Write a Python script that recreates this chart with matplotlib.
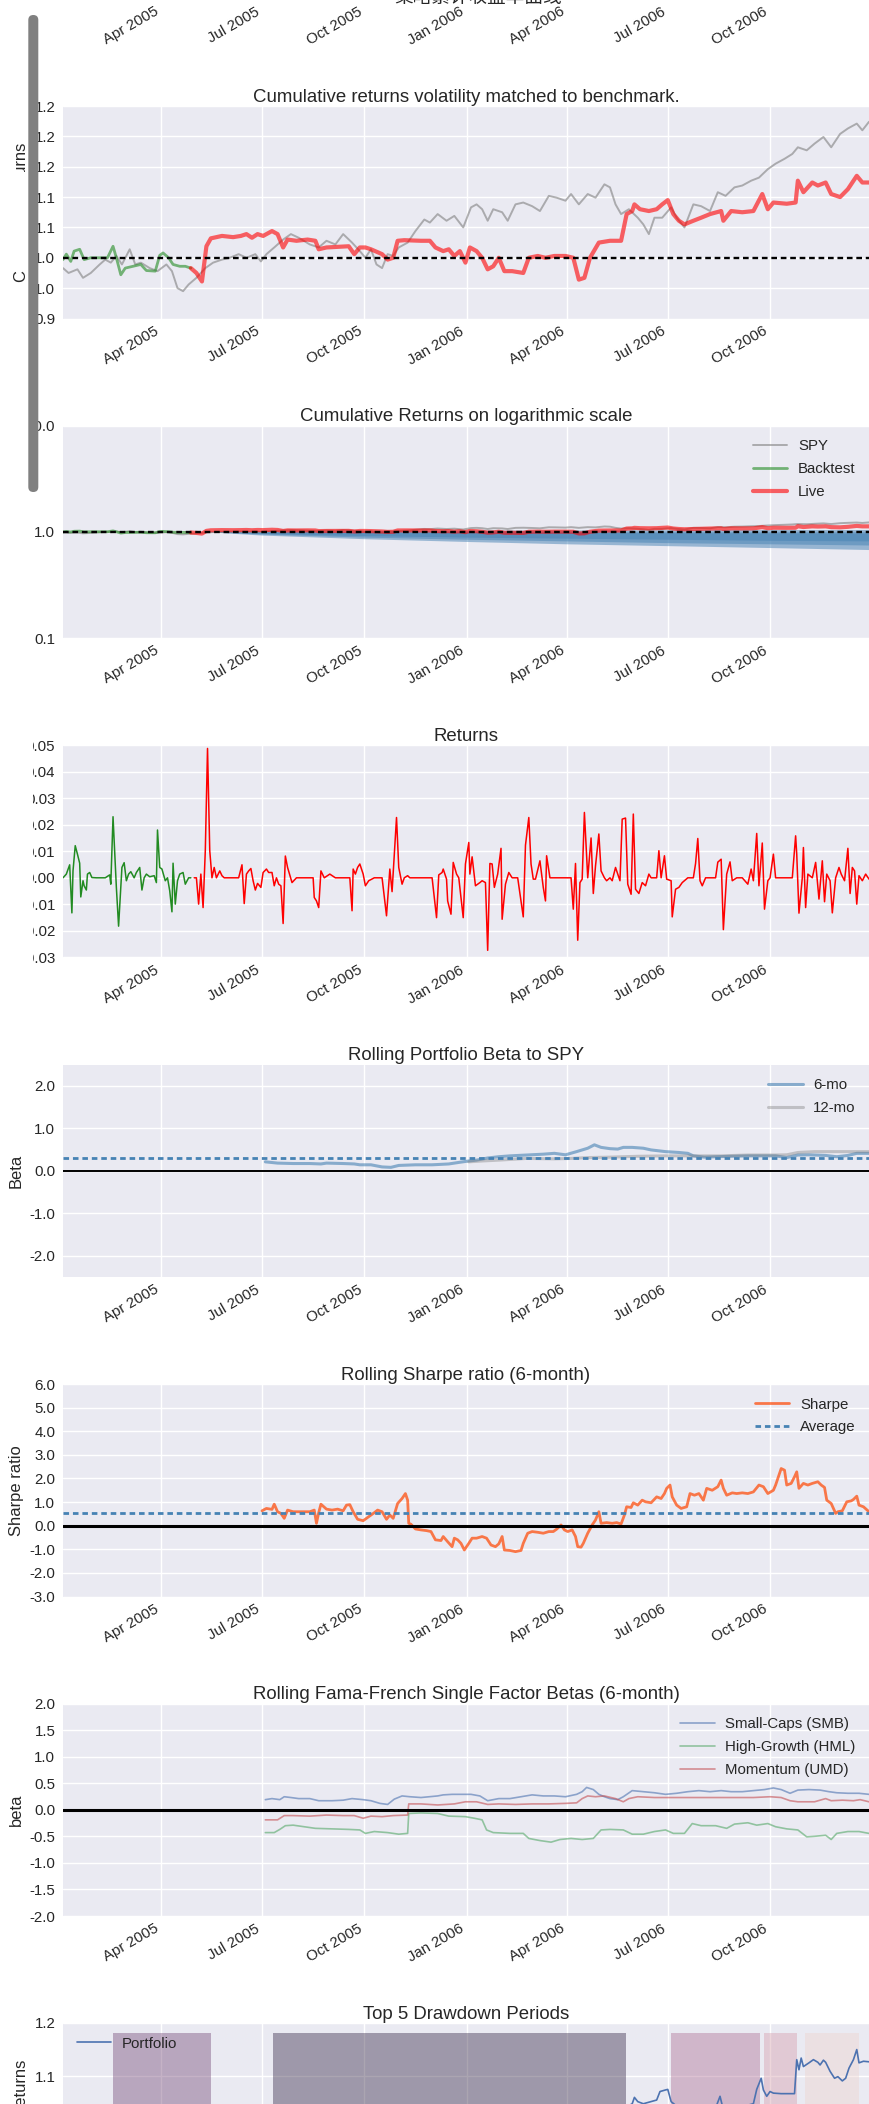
import numpy as np
import pandas as pd
import matplotlib
matplotlib.use("Agg")
import matplotlib.pyplot as plt
import matplotlib.dates as mdates
from matplotlib.ticker import FixedLocator, FixedFormatter, NullLocator
from matplotlib.patches import FancyBboxPatch, Rectangle
from matplotlib.transforms import IdentityTransform
import seaborn as sns

# ---------------- data (x values are calendar days after 2005-01-03) ----------------
START = "2005-01-03"
END = "2006-12-29"

spy_days = [0, 5, 13, 18, 25, 33, 38, 43, 48, 53, 60, 65, 70, 78, 85, 93, 98, 103, 108, 113,
            120, 128, 135, 143, 150, 158, 165, 173, 178, 183, 190, 198, 205, 212, 222, 230, 237,
            245, 252, 260, 267, 272, 277, 282, 287, 292, 297, 302, 310, 317, 325, 330, 337, 345,
            352, 360, 367, 372, 377, 382, 387, 395, 400, 407, 414, 422, 429, 437, 444, 452, 457,
            464, 472, 479, 487, 492, 497, 502, 509, 517, 522, 527, 532, 539, 547, 552, 559, 567,
            574, 582, 589, 596, 604, 611, 619, 626, 634, 641, 649, 656, 661, 669, 676, 684, 691,
            699, 706, 714, 719, 725]
spy_vals = [0.983, 0.975, 0.981, 0.967, 0.975, 0.989, 0.997, 0.992, 1.003, 0.989, 1.014, 0.989,
            0.992, 0.983, 0.978, 0.989, 0.978, 0.950, 0.945, 0.956, 0.967, 0.983, 0.992, 0.997,
            1.000, 1.006, 1.000, 1.006, 0.994, 1.006, 1.017, 1.030, 1.039, 1.033, 1.022, 1.017,
            1.028, 1.022, 1.039, 1.025, 1.011, 1.000, 1.014, 0.989, 0.983, 1.006, 1.003, 1.017,
            1.025, 1.044, 1.063, 1.058, 1.072, 1.061, 1.069, 1.050, 1.083, 1.088, 1.080, 1.061,
            1.080, 1.075, 1.061, 1.088, 1.091, 1.085, 1.077, 1.102, 1.099, 1.094, 1.105, 1.088,
            1.105, 1.099, 1.121, 1.116, 1.088, 1.072, 1.080, 1.066, 1.055, 1.039, 1.066, 1.066,
            1.083, 1.066, 1.050, 1.088, 1.085, 1.077, 1.108, 1.102, 1.116, 1.119, 1.127, 1.132,
            1.146, 1.155, 1.163, 1.171, 1.182, 1.177, 1.188, 1.199, 1.182, 1.204, 1.213, 1.221,
            1.210, 1.224]

bt_days = [0, 3, 7, 10, 15, 19, 25, 33, 40, 45, 48, 52, 56, 63, 70, 75, 83, 87, 90, 95, 99,
           105, 110, 115]
bt_vals = [0.997, 1.006, 0.994, 1.011, 1.014, 0.997, 1.000, 1.000, 1.000, 1.019, 1.000, 0.972,
           0.983, 0.986, 0.989, 0.979, 0.978, 1.004, 1.008, 1.000, 0.989, 0.986, 0.986, 0.983]

live_days = [115, 120, 125, 129, 133, 143, 153, 160, 165, 170, 175, 180, 188, 193, 198, 202,
             210, 220, 227, 230, 237, 247, 257, 262, 267, 272, 277, 287, 292, 297, 301, 307, 322,
             330, 335, 342, 347, 352, 357, 362, 366, 372, 377, 382, 387, 392, 397, 404, 414, 419,
             427, 434, 442, 452, 459, 464, 469, 474, 482, 492, 502, 507, 512, 514, 519, 527, 534,
             539, 544, 549, 554, 559, 567, 574, 582, 592, 594, 601, 611, 621, 629, 634, 639, 651,
             659, 661, 666, 674, 679, 686, 691, 699, 706, 714, 719, 725]
live_vals = [0.983, 0.975, 0.961, 1.019, 1.032, 1.036, 1.034, 1.036, 1.039, 1.033, 1.039, 1.036,
             1.044, 1.039, 1.017, 1.030, 1.028, 1.030, 1.028, 1.014, 1.017, 1.018, 1.019, 1.006,
             1.017, 1.017, 1.014, 1.006, 0.997, 1.000, 1.028, 1.029, 1.028, 1.028, 1.017, 1.011,
             1.014, 1.003, 1.011, 0.992, 1.017, 1.011, 1.000, 0.981, 0.986, 1.000, 0.978, 0.978,
             0.975, 1.000, 1.003, 1.000, 1.003, 1.003, 1.000, 0.964, 0.967, 1.000, 1.025, 1.028,
             1.028, 1.072, 1.077, 1.088, 1.080, 1.077, 1.080, 1.088, 1.095, 1.072, 1.061, 1.055,
             1.061, 1.066, 1.072, 1.077, 1.061, 1.077, 1.075, 1.077, 1.105, 1.080, 1.091, 1.089,
             1.091, 1.127, 1.108, 1.124, 1.119, 1.124, 1.105, 1.100, 1.113, 1.135, 1.124, 1.124]

# bootstrap cone (lower / upper bounds for 1.0, 1.5, 2.0 std)
cone_days = [129, 179, 271, 363, 453, 544, 636, 725]
cone_lo = {1.0: [1.0, 0.965, 0.92, 0.89, 0.87, 0.85, 0.83, 0.82],
           1.5: [1.0, 0.95, 0.89, 0.85, 0.82, 0.79, 0.77, 0.75],
           2.0: [1.0, 0.93, 0.86, 0.81, 0.77, 0.74, 0.71, 0.68]}
cone_hi = {1.0: [1.0, 1.0, 0.995, 0.99, 0.985, 0.98, 0.975, 0.97],
           1.5: [1.0, 1.01, 1.01, 1.01, 1.01, 1.01, 1.01, 1.01],
           2.0: [1.0, 1.02, 1.03, 1.035, 1.04, 1.045, 1.05, 1.05]}

ret_bt_days = [0, 3, 6, 8, 9, 11, 13, 15, 16, 18, 19, 21, 22, 24, 26, 30, 38, 42, 43, 45, 48,
               50, 53, 55, 57, 59, 61, 64, 66, 69, 71, 73, 75, 78, 82, 84, 85, 87, 89, 92, 94, 96,
               98, 99, 101, 103, 105, 108, 110, 113, 115]
ret_bt_vals = [0.0, 0.0014, 0.0049, -0.0132, 0.0026, 0.0121, 0.0089, 0.0055, -0.0072, -0.0011,
               -0.003, -0.0046, 0.0014, 0.002, 0.0001, 0.0, 0.0, 0.0011, -0.0024, 0.023, -0.0036,
               -0.0182, 0.0039, 0.0057, -0.0011, 0.0014, 0.0023, 0.0, 0.002, 0.0039, -0.0046, 0.0,
               0.0014, 0.0004, 0.0008, -0.0018, 0.018, 0.0039, 0.0033, -0.0011, 0.0, -0.0049,
               -0.0128, 0.0055, -0.0099, -0.0011, 0.0014, 0.002, -0.0024, 0.0, 0.0]

ret_live_days = [118, 120, 122, 124, 126, 128, 130, 132, 134, 136, 138, 141, 143, 145, 148, 153,
                 158, 161, 163, 165, 167, 169, 171, 173, 175, 178, 180, 183, 185, 188, 190, 192,
                 194, 196, 198, 200, 202, 206, 210, 215, 220, 225, 226, 228, 230, 232, 235, 240,
                 245, 252, 258, 260, 261, 263, 265, 267, 270, 272, 275, 280, 287, 291, 294, 296,
                 298, 300, 302, 305, 307, 310, 312, 317, 322, 327, 332, 336, 338, 341, 342, 345,
                 346, 349, 351, 354, 356, 360, 362, 365, 366, 368, 371, 375, 377, 380, 382, 384,
                 386, 388, 391, 394, 395, 398, 401, 404, 409, 414, 416, 419, 421, 423, 425, 429,
                 432, 434, 435, 438, 442, 447, 452, 457, 459, 461, 463, 465, 467, 469, 472, 475,
                 477, 479, 482, 484, 487, 489, 492, 494, 497, 501, 503, 506, 508, 511, 513, 515,
                 518, 521, 524, 527, 529, 534, 536, 538, 541, 543, 547, 548, 551, 554, 557, 562,
                 567, 569, 571, 573, 575, 578, 582, 587, 589, 592, 594, 597, 600, 602, 606, 611,
                 616, 619, 621, 624, 626, 629, 631, 634, 636, 639, 641, 646, 651, 656, 659, 660,
                 662, 665, 666, 668, 670, 674, 677, 680, 683, 685, 687, 690, 692, 695, 698, 700,
                 703, 706, 708, 710, 712, 714, 716, 719, 722, 725]
ret_live_vals = [0.0, 0.0, -0.0099, 0.0014, -0.0112, 0.0102, 0.0487, 0.0102, 0.0, 0.0039, 0.0,
                 0.0026, 0.0008, 0.0, 0.0, 0.0, 0.0, 0.0049, -0.0097, 0.0014, 0.0026, 0.0035,
                 -0.0011, -0.0046, -0.0021, -0.0036, 0.002, 0.0033, 0.002, 0.002, -0.003, 0.0,
                 -0.0024, -0.003, -0.0172, 0.0082, 0.0039, -0.0018, 0.0, 0.0, 0.0, 0.0, -0.0074,
                 -0.0087, -0.0112, 0.0026, 0.0, 0.0014, 0.0, 0.0, 0.0, -0.0124, 0.0033, 0.0014,
                 0.0039, 0.0052, 0.0014, -0.003, -0.0011, 0.0, 0.0, -0.0143, 0.0033, -0.0052,
                 0.0089, 0.0227, 0.0039, -0.0024, 0.0, 0.0008, 0.0, 0.0, 0.0, 0.0, 0.0, -0.015,
                 0.0011, 0.002, 0.0033, -0.0005, -0.0087, -0.0137, 0.0058, 0.0014, 0.0, -0.015,
                 0.0052, 0.0133, 0.0014, 0.0079, -0.003, -0.0018, -0.0011, -0.0018, -0.0273,
                 0.0054, 0.0052, -0.0036, 0.0014, 0.0111, -0.0156, -0.0024, 0.002, 0.0, 0.0,
                 -0.0147, 0.0123, 0.0227, 0.0052, -0.0005, -0.0005, 0.0064, -0.0036, -0.0087,
                 0.0083, 0.0, 0.0, 0.0, 0.0, 0.0, -0.0118, 0.0054, -0.0235, -0.0018, -0.0005,
                 0.0246, 0.0, 0.015, -0.0059, 0.0045, 0.0165, 0.0026, 0.0, -0.0011, 0.0, -0.0011,
                 0.0039, -0.0011, 0.0221, 0.0225, -0.0024, -0.0062, 0.024, -0.0043, -0.0059,
                 -0.0018, -0.003, 0.0014, 0.0, 0.0, 0.0102, 0.0, 0.0083, -0.0005, -0.0011, -0.0147,
                 -0.0043, -0.0036, -0.0018, 0.0, 0.0, 0.0054, 0.0148, -0.0011, -0.003, 0.0, 0.0,
                 0.0, 0.0059, 0.007, -0.0195, 0.0014, 0.006, -0.0011, 0.0, 0.0, -0.0024, 0.0033,
                 -0.0011, 0.0167, -0.003, 0.0131, -0.0118, -0.0011, 0.0, 0.0089, 0.0, 0.0, 0.0,
                 0.0, 0.0158, 0.0089, -0.0133, 0.0, 0.0114, -0.0112, 0.0014, 0.0, 0.0058, -0.008,
                 0.0064, -0.009, 0.0014, -0.0011, -0.0132, 0.0, 0.0039, 0.0014, -0.0011, 0.0111,
                 -0.0059, 0.0039, 0.0026, -0.0099, 0.0008, -0.0011, 0.0014, -0.0005]

beta6_days = [182, 193, 207, 222, 232, 237, 252, 262, 267, 277, 287, 295, 302, 317, 332, 347,
              357, 365, 372, 382, 392, 402, 417, 432, 442, 452, 462, 472, 478, 484, 492, 499, 504,
              512, 522, 529, 542, 554, 562, 567, 577, 587, 601, 616, 631, 641, 651, 661, 671, 686,
              696, 706, 714, 725]
beta6_vals = [0.21, 0.18, 0.17, 0.17, 0.16, 0.18, 0.17, 0.16, 0.14, 0.14, 0.09, 0.08, 0.125,
              0.14, 0.14, 0.16, 0.20, 0.23, 0.25, 0.30, 0.33, 0.35, 0.37, 0.39, 0.41, 0.375, 0.45,
              0.53, 0.61, 0.55, 0.52, 0.51, 0.55, 0.55, 0.53, 0.49, 0.45, 0.43, 0.41, 0.35, 0.32,
              0.33, 0.34, 0.35, 0.35, 0.35, 0.31, 0.37, 0.375, 0.36, 0.33, 0.36, 0.41, 0.41]
beta12_days = [365, 377, 392, 417, 442, 457, 472, 492, 517, 542, 567, 592, 616, 641, 651, 661,
               676, 691, 706, 725]
beta12_vals = [0.21, 0.23, 0.25, 0.29, 0.28, 0.29, 0.31, 0.32, 0.34, 0.35, 0.35, 0.35, 0.37,
               0.37, 0.375, 0.43, 0.45, 0.45, 0.45, 0.45]
beta6_mean = 0.305

sharpe_days = [179, 183, 188, 190, 193, 196, 199, 202, 207, 215, 222, 226, 228, 230, 232, 237,
               242, 247, 252, 255, 258, 261, 265, 270, 275, 280, 283, 287, 291, 294, 297, 301, 305,
               308, 310, 311, 313, 317, 322, 327, 331, 335, 340, 342, 346, 350, 352, 355, 358, 361,
               365, 368, 372, 377, 381, 385, 389, 392, 395, 397, 402, 407, 412, 414, 418, 422, 427,
               432, 437, 441, 444, 448, 451, 454, 458, 461, 463, 466, 468, 472, 476, 479, 482, 484,
               489, 494, 498, 502, 505, 507, 511, 513, 517, 521, 524, 529, 534, 538, 541, 543, 546,
               548, 552, 556, 561, 564, 568, 572, 576, 579, 584, 589, 592, 594, 597, 602, 606, 611,
               616, 621, 626, 630, 634, 639, 641, 644, 646, 649, 651, 655, 658, 660, 662, 666, 670,
               674, 679, 682, 685, 687, 691, 695, 697, 701, 705, 709, 711, 714, 716, 720, 725]
sharpe_vals = [0.63, 0.73, 0.69, 0.91, 0.59, 0.52, 0.31, 0.66, 0.59, 0.59, 0.59, 0.66, 0.10,
               0.55, 0.91, 0.70, 0.66, 0.70, 0.63, 0.87, 0.89, 0.59, 0.27, 0.21, 0.38, 0.55, 0.66,
               0.59, 0.27, 0.45, 0.31, 0.94, 1.15, 1.36, 1.08, 0.10, 0.06, -0.14, -0.18, -0.21,
               -0.25, -0.60, -0.63, -0.46, -0.68, -0.89, -0.53, -0.60, -0.75, -1.03, -0.75, -0.53,
               -0.53, -0.46, -0.53, -0.82, -0.89, -0.77, -0.46, -1.03, -1.05, -1.10, -1.05, -0.75,
               -0.32, -0.25, -0.28, -0.32, -0.25, -0.25, -0.15, 0.03, -0.18, -0.25, -0.18, -0.46,
               -0.89, -0.91, -0.75, -0.32, 0.03, 0.24, 0.59, 0.10, 0.13, 0.10, 0.13, 0.07, 0.45,
               0.80, 0.77, 0.97, 0.87, 1.08, 1.01, 0.97, 1.22, 1.15, 1.36, 1.58, 1.72, 1.22, 0.87,
               0.73, 0.80, 1.36, 1.29, 1.36, 1.08, 1.58, 1.50, 1.65, 1.93, 1.58, 1.29, 1.39, 1.36,
               1.39, 1.36, 1.43, 1.72, 1.65, 1.36, 1.50, 1.72, 2.14, 2.42, 2.35, 1.72, 1.79, 2.07,
               2.28, 1.58, 1.79, 1.72, 1.79, 1.86, 1.72, 1.62, 1.08, 0.94, 0.52, 0.59, 0.63, 1.01,
               1.05, 1.11, 1.25, 0.87, 0.80, 0.59]
sharpe_mean = 0.52

smb_days = [182, 188, 195, 199, 205, 212, 222, 230, 242, 252, 260, 270, 277, 285, 292, 298, 305,
            312, 322, 337, 342, 350, 357, 367, 375, 382, 392, 402, 412, 422, 432, 442, 452, 462,
            467, 471, 477, 482, 487, 492, 499, 504, 512, 522, 532, 542, 552, 562, 572, 582, 592,
            601, 611, 621, 631, 639, 646, 654, 661, 671, 681, 689, 696, 706, 716, 725]
smb_vals = [0.19, 0.21, 0.19, 0.245, 0.23, 0.21, 0.21, 0.17, 0.17, 0.18, 0.21, 0.19, 0.17, 0.12,
            0.10, 0.20, 0.26, 0.245, 0.23, 0.26, 0.28, 0.29, 0.29, 0.29, 0.26, 0.17, 0.21, 0.21,
            0.245, 0.28, 0.26, 0.26, 0.245, 0.29, 0.34, 0.42, 0.38, 0.29, 0.245, 0.21, 0.19,
            0.245, 0.36, 0.34, 0.32, 0.29, 0.31, 0.34, 0.36, 0.34, 0.36, 0.34, 0.34, 0.36, 0.38,
            0.41, 0.38, 0.31, 0.37, 0.38, 0.37, 0.34, 0.32, 0.31, 0.31, 0.29]
hml_days = [182, 190, 195, 200, 207, 217, 227, 242, 257, 267, 272, 280, 292, 302, 310, 311, 322,
            337, 347, 362, 370, 377, 381, 387, 402, 414, 419, 429, 439, 447, 457, 467, 477, 484,
            492, 504, 512, 522, 532, 542, 549, 559, 566, 574, 587, 597, 604, 616, 624, 634, 641,
            651, 661, 669, 676, 686, 691, 696, 706, 716, 725]
hml_vals = [-0.43, -0.43, -0.37, -0.30, -0.29, -0.32, -0.35, -0.36, -0.37, -0.38, -0.445, -0.41,
            -0.43, -0.46, -0.445, -0.07, -0.06, -0.07, -0.12, -0.13, -0.16, -0.19, -0.38, -0.43,
            -0.445, -0.445, -0.54, -0.58, -0.61, -0.56, -0.54, -0.56, -0.54, -0.38, -0.37, -0.38,
            -0.46, -0.46, -0.41, -0.38, -0.445, -0.445, -0.26, -0.30, -0.30, -0.35, -0.27,
            -0.245, -0.29, -0.26, -0.32, -0.36, -0.38, -0.51, -0.50, -0.48, -0.56, -0.445, -0.41,
            -0.41, -0.445]
umd_days = [182, 193, 199, 207, 222, 237, 252, 262, 270, 277, 287, 297, 310, 311, 322, 337, 352,
            362, 372, 382, 392, 407, 422, 437, 452, 462, 467, 472, 479, 487, 497, 504, 509, 517,
            532, 547, 562, 582, 601, 621, 636, 646, 654, 661, 676, 686, 691, 701, 711, 717, 725]
umd_vals = [-0.19, -0.19, -0.11, -0.11, -0.12, -0.10, -0.11, -0.11, -0.16, -0.12, -0.13, -0.11,
            -0.10, 0.11, 0.11, 0.09, 0.11, 0.15, 0.15, 0.10, 0.11, 0.10, 0.11, 0.11, 0.12, 0.13,
            0.21, 0.26, 0.245, 0.26, 0.21, 0.15, 0.21, 0.245, 0.23, 0.23, 0.23, 0.23, 0.23, 0.23,
            0.245, 0.23, 0.17, 0.15, 0.15, 0.21, 0.17, 0.18, 0.17, 0.19, 0.15]

port_days = [0, 45, 85, 130, 180, 250, 300, 350, 400, 450, 480, 505, 512, 514, 517, 522, 534,
             537, 542, 544, 547, 554, 572, 587, 591, 593, 606, 621, 624, 628, 630, 633, 636, 639,
             646, 658, 660, 662, 664, 666, 671, 675, 679, 681, 684, 686, 690, 694, 697, 701, 704,
             707, 711, 714, 716, 720, 725]
port_vals = [1.0, 1.01, 0.985, 0.975, 1.025, 1.015, 1.02, 1.01, 0.99, 1.0, 1.02, 1.04, 1.048,
             1.060, 1.052, 1.048, 1.055, 1.071, 1.074, 1.075, 1.052, 1.04, 1.035, 1.04, 1.062,
             1.045, 1.04, 1.048, 1.075, 1.096, 1.074, 1.062, 1.071, 1.068, 1.067, 1.067, 1.131,
             1.112, 1.134, 1.118, 1.125, 1.131, 1.126, 1.121, 1.130, 1.126, 1.109, 1.096, 1.099,
             1.091, 1.096, 1.115, 1.131, 1.150, 1.125, 1.128, 1.127]
# top-5 drawdowns (peak day, recovery day), ordered by size
dd_peak = [189, 45, 547, 631, 667]
dd_recov = [506, 133, 627, 660, 716]

# axis texts
titles = ["Cumulative returns volatility matched to benchmark.",
          "Cumulative Returns on logarithmic scale",
          "Returns",
          "Rolling Portfolio Beta to SPY",
          "Rolling Sharpe ratio (6-month)",
          "Rolling Fama-French Single Factor Betas (6-month)",
          "Top 5 Drawdown Periods"]
ylabels = ["Cumulative returns", "Cumulative returns", "Returns", "Beta", "Sharpe ratio",
           "beta", "Cumulative returns"]
p1_ticks = [0.90, 0.95, 1.00, 1.05, 1.10, 1.15, 1.20, 1.25]
p1_labels = ["0.9", "1.0", "1.0", "1.1", "1.1", "1.2", "1.2", "1.2"]
top_text = "策略累计收益率曲线"

# ---------------- style ----------------
sns.set_style("darkgrid")
plt.rcParams["font.family"] = ["Liberation Sans", "Noto Sans CJK SC", "DejaVu Sans"]
plt.rcParams["axes.unicode_minus"] = False
plt.rcParams["text.color"] = ".15"
plt.rcParams["xtick.color"] = ".15"
plt.rcParams["ytick.color"] = ".15"
plt.rcParams["axes.labelcolor"] = ".15"

TICK_FS = 10.8
LEG_FS = 10.8
TITLE_FS = 13.4
LABEL_FS = 11.9
LEG_KW = dict(frameon=False, fontsize=LEG_FS, handlelength=2.3, handletextpad=0.7,
              labelspacing=0.6)

def d(days):
    return pd.Timestamp(START) + pd.to_timedelta(np.asarray(days), unit="D")

W, H = 869, 2104
LEFT = 63
TOP0, STEP, AH = 106, 319.5, 212.5

fig = plt.figure(figsize=(W / 100, H / 100), dpi=100)

def make_ax(k):
    top = TOP0 + STEP * k
    ax = fig.add_axes([LEFT / W, 1 - (top + AH) / H, (W - LEFT) / W, AH / H])
    ax.set_facecolor("#EAEAF2")
    for s in ax.spines.values():
        s.set_visible(False)
    ax.grid(True, color="white", lw=1.0)
    ax.set_axisbelow(True)
    ax.tick_params(axis="both", length=0, labelsize=TICK_FS)
    ax.tick_params(axis="x", pad=4)
    ax.tick_params(axis="y", pad=5.5)
    ax.set_xlim(pd.Timestamp(START), pd.Timestamp(END))
    ax.xaxis.set_major_locator(mdates.MonthLocator(bymonth=[1, 4, 7, 10]))
    ax.xaxis.set_major_formatter(mdates.DateFormatter("%b %Y"))
    ax.xaxis.set_minor_locator(NullLocator())
    return ax

def finish(ax, k):
    plt.setp(ax.get_xticklabels(), rotation=30, ha="right")
    ax.set_title(titles[k], fontsize=TITLE_FS, pad=3)
    ax.set_ylabel(ylabels[k], fontsize=LABEL_FS)

def set_yticks(ax, ticks, labels):
    ax.yaxis.set_major_locator(FixedLocator(ticks))
    ax.yaxis.set_major_formatter(FixedFormatter(labels))
    ax.yaxis.set_minor_locator(NullLocator())

# hidden panel above the figure: only its date labels show at the top edge
ax0 = make_ax(-1)
ax0.set_facecolor("none")
ax0.grid(False)
ax0.set_yticks([])
plt.setp(ax0.get_xticklabels(), rotation=30, ha="right")

# panel 1: volatility matched cumulative returns
ax = make_ax(0)
ax.plot(d(spy_days), spy_vals, color="gray", alpha=0.6, lw=1.4)
ax.plot(d(bt_days), bt_vals, color="forestgreen", alpha=0.6, lw=2.0)
ax.plot(d(live_days), live_vals, color="red", alpha=0.6, lw=3.0)
ax.axhline(1.0, color="black", ls=(0, (2.4, 1.6)), lw=1.7)
ax.set_ylim(0.9, 1.25)
set_yticks(ax, p1_ticks, p1_labels)
finish(ax, 0)

# panel 2: log scale
ax = make_ax(1)
ax.set_yscale("log")
for std in [1.0, 1.5, 2.0]:
    ax.fill_between(d(cone_days), cone_lo[std], cone_hi[std], color="steelblue", alpha=0.5, lw=0)
ax.plot(d(spy_days), spy_vals, color="gray", alpha=0.6, lw=1.4, label="SPY")
ax.plot(d(bt_days), bt_vals, color="forestgreen", alpha=0.6, lw=2.0, label="Backtest")
ax.plot(d(live_days), live_vals, color="red", alpha=0.6, lw=3.0, label="Live")
ax.axhline(1.0, color="black", ls=(0, (2.4, 1.6)), lw=1.7)
ax.set_ylim(0.1, 10)
set_yticks(ax, [0.1, 1.0, 10.0], ["0.1", "1.0", "10.0"])
ax.legend(loc="upper right", **LEG_KW)
finish(ax, 1)

# panel 3: returns
ax = make_ax(2)
ax.plot(d(ret_bt_days), ret_bt_vals, color="forestgreen", lw=1.1)
ax.plot(d(ret_live_days), ret_live_vals, color="red", lw=1.1)
ax.set_ylim(-0.03, 0.05)
rt = [-0.03, -0.02, -0.01, 0.0, 0.01, 0.02, 0.03, 0.04, 0.05]
set_yticks(ax, rt, ["%.2f" % v for v in rt])
finish(ax, 2)

# panel 4: rolling beta
ax = make_ax(3)
ax.plot(d(beta6_days), beta6_vals, color="steelblue", alpha=0.6, lw=2.2, label="6-mo")
ax.plot(d(beta12_days), beta12_vals, color="gray", alpha=0.4, lw=2.2, label="12-mo")
ax.axhline(beta6_mean, color="steelblue", ls=(0, (2.0, 1.4)), lw=2.0)
ax.axhline(0.0, color="black", lw=1.4)
ax.set_ylim(-2.5, 2.5)
bt_ = [-2.0, -1.0, 0.0, 1.0, 2.0]
set_yticks(ax, bt_, ["%.1f" % v for v in bt_])
ax.legend(loc="upper right", **LEG_KW)
finish(ax, 3)

# panel 5: rolling sharpe
ax = make_ax(4)
ax.plot(d(sharpe_days), sharpe_vals, color="orangered", alpha=0.7, lw=2.0, label="Sharpe")
ax.axhline(sharpe_mean, color="steelblue", ls=(0, (2.0, 1.4)), lw=2.0, label="Average")
ax.axhline(0.0, color="black", lw=2.2)
ax.set_ylim(-3, 6)
st = [-3.0, -2.0, -1.0, 0.0, 1.0, 2.0, 3.0, 4.0, 5.0, 6.0]
set_yticks(ax, st, ["%.1f" % v for v in st])
ax.legend(loc="upper right", **LEG_KW)
finish(ax, 4)

# panel 6: fama-french
ax = make_ax(5)
ax.plot(d(smb_days), smb_vals, color="#4C72B0", alpha=0.6, lw=1.2, label="Small-Caps (SMB)")
ax.plot(d(hml_days), hml_vals, color="#55A868", alpha=0.6, lw=1.2, label="High-Growth (HML)")
ax.plot(d(umd_days), umd_vals, color="#C44E52", alpha=0.6, lw=1.2, label="Momentum (UMD)")
ax.axhline(0.0, color="black", lw=2.2)
ax.set_ylim(-2, 2)
ft = [-2.0, -1.5, -1.0, -0.5, 0.0, 0.5, 1.0, 1.5, 2.0]
set_yticks(ax, ft, ["%.1f" % v for v in ft])
ax.legend(loc="upper right", **LEG_KW)
finish(ax, 5)

# panel 7: drawdown periods (only its upper part lies on the page)
ax = make_ax(6)
ax.plot(d(port_days), port_vals, color="#4C72B0", lw=1.2, label="Portfolio")
pal = sns.cubehelix_palette(len(dd_peak))[::-1]
for i, (p, r) in enumerate(zip(dd_peak, dd_recov)):
    ax.fill_between(d([p, r]), 0.78, 1.181, color=pal[i], alpha=0.4, lw=0)
ax.set_ylim(0.8, 1.2)
dt = [1.1, 1.2]
set_yticks(ax, dt, ["%.1f" % v for v in dt])
ax.legend(["Portfolio"], loc="upper left", **LEG_KW)
finish(ax, 6)
ax.tick_params(axis="x", labelbottom=False)

# cut-off heading at the very top
fig.text(478 / W, 1 - 3 / H, top_text, ha="center", va="baseline", fontsize=TITLE_FS,
         family=["Noto Sans CJK SC"])

# white page areas that hide parts of the left margin, and the scroll bar
for (y0, y1) in [(172, 271), (286, 975)]:
    fig.add_artist(Rectangle((0, H - y1), 32.5, y1 - y0, transform=IdentityTransform(),
                             facecolor="white", edgecolor="none", zorder=5))
fig.add_artist(FancyBboxPatch((28.3, H - 492), 10, 477, boxstyle="round,pad=0,rounding_size=5",
                              transform=IdentityTransform(), facecolor="#808080",
                              edgecolor="none", zorder=6))

fig.savefig("out.png", dpi=100)
